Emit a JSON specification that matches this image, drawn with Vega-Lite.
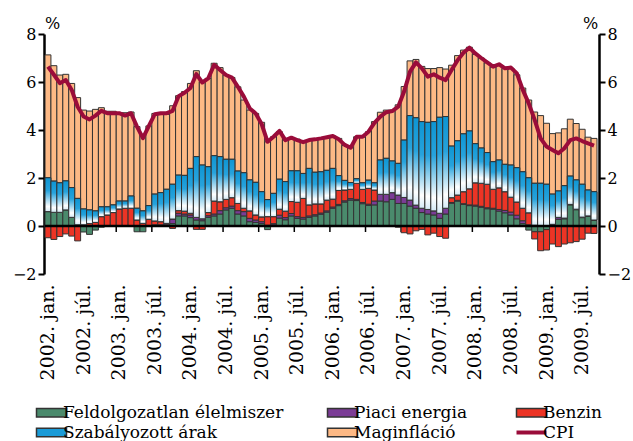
{
  "$schema": "https://vega.github.io/schema/vega-lite/v6.json",
  "width": 552,
  "height": 240,
  "autosize": {"type": "none"},
  "padding": {"left": 45, "top": 34, "right": 36, "bottom": 167},
  "background": "white",
  "config": {
    "view": {"stroke": null},
    "font": "DejaVu Serif",
    "axisX": {
      "labelAngle": -90, "labelFontSize": 19, "labelColor": "black", "labelPadding": 10,
      "labelFont": "DejaVu Serif",
      "domain": false, "ticks": false, "bandPosition": 0, "grid": false
    },
    "axisY": {
      "values": [-2, 0, 2, 4, 6, 8], "grid": false,
      "domainColor": "black", "domainWidth": 2.5,
      "tickColor": "black", "tickWidth": 2, "tickSize": 6,
      "labelFont": "DejaVu Serif",
      "labelFontSize": 16, "labelColor": "black", "labelPadding": 2, "labelFlush": false,
      "titleAngle": 0, "titleFont": "DejaVu Serif",
      "titleFontSize": 16, "titleFontWeight": "normal", "titleColor": "black",
      "titleY": -6, "titleAlign": "center", "titleBaseline": "alphabetic"
    }
  },
  "data": {"values": [
    {"m":"2002-01","s1":0.6,"s2":0,"s3":-0.49,"s4":1.41,"s5":5.12,"cpi":6.64},
    {"m":"2002-02","s1":0.57,"s2":0,"s3":-0.56,"s4":1.3,"s5":4.81,"cpi":6.3},
    {"m":"2002-03","s1":0.57,"s2":0,"s3":-0.44,"s4":1.23,"s5":4.49,"cpi":5.95},
    {"m":"2002-04","s1":0.67,"s2":0,"s3":-0.33,"s4":1.21,"s5":4.44,"cpi":6.08},
    {"m":"2002-05","s1":0.36,"s2":0,"s3":-0.42,"s4":1.24,"s5":4.34,"cpi":5.67},
    {"m":"2002-06","s1":0.05,"s2":0,"s3":-0.62,"s4":1.1,"s5":4.2,"cpi":4.97},
    {"m":"2002-07","s1":-0.25,"s2":0,"s3":0.05,"s4":0.66,"s5":4.12,"cpi":4.56},
    {"m":"2002-08","s1":-0.35,"s2":0,"s3":0.1,"s4":0.57,"s5":4.12,"cpi":4.44},
    {"m":"2002-09","s1":-0.17,"s2":0,"s3":0.15,"s4":0.48,"s5":4.23,"cpi":4.6},
    {"m":"2002-10","s1":-0.05,"s2":0,"s3":0.39,"s4":0.41,"s5":4.13,"cpi":4.8},
    {"m":"2002-11","s1":0,"s2":0,"s3":0.46,"s4":0.34,"s5":3.98,"cpi":4.7},
    {"m":"2002-12","s1":0,"s2":0,"s3":0.56,"s4":0.32,"s5":3.9,"cpi":4.7},
    {"m":"2003-01","s1":0,"s2":0,"s3":0.71,"s4":0.33,"s5":3.68,"cpi":4.7},
    {"m":"2003-02","s1":0,"s2":0,"s3":0.74,"s4":0.3,"s5":3.68,"cpi":4.6},
    {"m":"2003-03","s1":0,"s2":0,"s3":0.74,"s4":0.51,"s5":3.5,"cpi":4.7},
    {"m":"2003-04","s1":-0.24,"s2":0,"s3":0.25,"s4":0.49,"s5":3.4,"cpi":4.14},
    {"m":"2003-05","s1":-0.24,"s2":0,"s3":0.11,"s4":0.52,"s5":3.16,"cpi":3.66},
    {"m":"2003-06","s1":0,"s2":0,"s3":0.28,"s4":0.57,"s5":3.32,"cpi":4.17},
    {"m":"2003-07","s1":0,"s2":0.05,"s3":0.16,"s4":1.12,"s5":3.36,"cpi":4.66},
    {"m":"2003-08","s1":0,"s2":0.05,"s3":0.13,"s4":1.21,"s5":3.26,"cpi":4.7},
    {"m":"2003-09","s1":0,"s2":0.08,"s3":0.03,"s4":1.42,"s5":3.12,"cpi":4.7},
    {"m":"2003-10","s1":0.1,"s2":0.19,"s3":-0.1,"s4":1.45,"s5":3.27,"cpi":4.8},
    {"m":"2003-11","s1":0.42,"s2":0.11,"s3":0.11,"s4":1.48,"s5":3.31,"cpi":5.41},
    {"m":"2003-12","s1":0.42,"s2":0.08,"s3":0.12,"s4":1.49,"s5":3.49,"cpi":5.55},
    {"m":"2004-01","s1":0.35,"s2":0.11,"s3":0.07,"s4":1.87,"s5":3.54,"cpi":5.75},
    {"m":"2004-02","s1":0.25,"s2":0.11,"s3":-0.14,"s4":2.53,"s5":3.58,"cpi":6.33},
    {"m":"2004-03","s1":0.22,"s2":0.08,"s3":-0.14,"s4":2.24,"s5":3.47,"cpi":5.98},
    {"m":"2004-04","s1":0.36,"s2":0.07,"s3":0.13,"s4":1.91,"s5":3.68,"cpi":6.15},
    {"m":"2004-05","s1":0.42,"s2":0.08,"s3":0.54,"s4":1.89,"s5":3.85,"cpi":6.72},
    {"m":"2004-06","s1":0.5,"s2":0.14,"s3":0.37,"s4":1.88,"s5":3.71,"cpi":6.5},
    {"m":"2004-07","s1":0.67,"s2":0.09,"s3":0.35,"s4":1.67,"s5":3.51,"cpi":6.29},
    {"m":"2004-08","s1":0.74,"s2":0.09,"s3":0.35,"s4":1.6,"s5":3.41,"cpi":6.18},
    {"m":"2004-09","s1":0.5,"s2":0.14,"s3":0.3,"s4":1.35,"s5":3.51,"cpi":5.8},
    {"m":"2004-10","s1":0.42,"s2":0.18,"s3":0.14,"s4":1.48,"s5":3.03,"cpi":5.39},
    {"m":"2004-11","s1":0.18,"s2":0.14,"s3":0.31,"s4":1.29,"s5":2.91,"cpi":4.9},
    {"m":"2004-12","s1":0.15,"s2":0.1,"s3":0.21,"s4":1.36,"s5":2.87,"cpi":4.69},
    {"m":"2005-01","s1":0.1,"s2":0.08,"s3":0.2,"s4":1.05,"s5":2.89,"cpi":4.25},
    {"m":"2005-02","s1":-0.15,"s2":0.03,"s3":0.36,"s4":0.71,"s5":2.41,"cpi":3.51},
    {"m":"2005-03","s1":0.05,"s2":0.05,"s3":0.29,"s4":0.97,"s5":2.36,"cpi":3.72},
    {"m":"2005-04","s1":0.33,"s2":0.12,"s3":0.25,"s4":1.25,"s5":1.98,"cpi":3.96},
    {"m":"2005-05","s1":0.26,"s2":0.09,"s3":0.27,"s4":1.23,"s5":1.73,"cpi":3.58},
    {"m":"2005-06","s1":0.42,"s2":0.1,"s3":0.5,"s4":1.28,"s5":1.35,"cpi":3.68},
    {"m":"2005-07","s1":0.32,"s2":0.07,"s3":0.6,"s4":1.31,"s5":1.32,"cpi":3.58},
    {"m":"2005-08","s1":0.29,"s2":0.07,"s3":0.79,"s4":1.04,"s5":1.31,"cpi":3.49},
    {"m":"2005-09","s1":0.36,"s2":0.06,"s3":0.46,"s4":1.52,"s5":1.18,"cpi":3.58},
    {"m":"2005-10","s1":0.42,"s2":0.05,"s3":0.45,"s4":1.32,"s5":1.36,"cpi":3.61},
    {"m":"2005-11","s1":0.49,"s2":0.05,"s3":0.38,"s4":1.34,"s5":1.37,"cpi":3.65},
    {"m":"2005-12","s1":0.58,"s2":0.05,"s3":0.45,"s4":1.24,"s5":1.38,"cpi":3.7},
    {"m":"2006-01","s1":0.74,"s2":0.05,"s3":0.33,"s4":1.28,"s5":1.35,"cpi":3.75},
    {"m":"2006-02","s1":0.85,"s2":0.05,"s3":0.58,"s4":0.62,"s5":1.55,"cpi":3.61},
    {"m":"2006-03","s1":1.0,"s2":0.05,"s3":0.45,"s4":0.4,"s5":1.45,"cpi":3.38},
    {"m":"2006-04","s1":1.08,"s2":0.06,"s3":0.39,"s4":0.28,"s5":1.45,"cpi":3.26},
    {"m":"2006-05","s1":1.06,"s2":0.05,"s3":0.67,"s4":0.19,"s5":1.75,"cpi":3.72},
    {"m":"2006-06","s1":0.93,"s2":0.05,"s3":0.55,"s4":0.27,"s5":1.9,"cpi":3.72},
    {"m":"2006-07","s1":0.86,"s2":0.05,"s3":0.66,"s4":0.34,"s5":2.02,"cpi":3.93},
    {"m":"2006-08","s1":0.88,"s2":0.16,"s3":0.46,"s4":0.3,"s5":2.55,"cpi":4.3},
    {"m":"2006-09","s1":1.04,"s2":0.28,"s3":0,"s4":1.43,"s5":1.99,"cpi":4.56},
    {"m":"2006-10","s1":1.01,"s2":0.31,"s3":0,"s4":1.5,"s5":2.01,"cpi":4.74},
    {"m":"2006-11","s1":1.11,"s2":0.28,"s3":0,"s4":1.32,"s5":2.12,"cpi":4.79},
    {"m":"2006-12","s1":0.94,"s2":0.35,"s3":-0.05,"s4":1.32,"s5":2.44,"cpi":4.97},
    {"m":"2007-01","s1":0.94,"s2":0.25,"s3":-0.28,"s4":2.39,"s5":2.23,"cpi":5.6},
    {"m":"2007-02","s1":0.83,"s2":0.25,"s3":-0.33,"s4":3.52,"s5":2.28,"cpi":6.43},
    {"m":"2007-03","s1":0.74,"s2":0.13,"s3":-0.2,"s4":3.64,"s5":2.43,"cpi":6.82},
    {"m":"2007-04","s1":0.56,"s2":0.18,"s3":-0.14,"s4":3.61,"s5":2.3,"cpi":6.57},
    {"m":"2007-05","s1":0.5,"s2":0.19,"s3":-0.37,"s4":3.63,"s5":2.24,"cpi":6.22},
    {"m":"2007-06","s1":0.46,"s2":0.17,"s3":-0.3,"s4":3.72,"s5":2.21,"cpi":6.32},
    {"m":"2007-07","s1":0.32,"s2":0.21,"s3":-0.44,"s4":4.0,"s5":2.07,"cpi":6.18},
    {"m":"2007-08","s1":0.5,"s2":0.24,"s3":-0.51,"s4":3.82,"s5":1.98,"cpi":6.08},
    {"m":"2007-09","s1":0.95,"s2":0.03,"s3":0.2,"s4":2.15,"s5":3.37,"cpi":6.5},
    {"m":"2007-10","s1":1.04,"s2":0.03,"s3":0.22,"s4":2.26,"s5":3.55,"cpi":6.9},
    {"m":"2007-11","s1":0.9,"s2":0.03,"s3":0.5,"s4":2.41,"s5":3.49,"cpi":7.22},
    {"m":"2007-12","s1":0.85,"s2":0.03,"s3":0.67,"s4":2.41,"s5":3.49,"cpi":7.43},
    {"m":"2008-01","s1":0.83,"s2":0.04,"s3":0.93,"s4":1.63,"s5":3.72,"cpi":7.19},
    {"m":"2008-02","s1":0.78,"s2":0.04,"s3":0.96,"s4":1.47,"s5":3.75,"cpi":7.0},
    {"m":"2008-03","s1":0.72,"s2":0.04,"s3":0.98,"s4":1.32,"s5":3.74,"cpi":6.82},
    {"m":"2008-04","s1":0.7,"s2":0.04,"s3":0.79,"s4":1.15,"s5":3.94,"cpi":6.64},
    {"m":"2008-05","s1":0.62,"s2":0.07,"s3":0.9,"s4":1.16,"s5":3.95,"cpi":6.74},
    {"m":"2008-06","s1":0.55,"s2":0.1,"s3":0.78,"s4":1.14,"s5":3.99,"cpi":6.57},
    {"m":"2008-07","s1":0.46,"s2":0.12,"s3":0.62,"s4":1.34,"s5":4.03,"cpi":6.6},
    {"m":"2008-08","s1":0.3,"s2":0.15,"s3":0.55,"s4":1.43,"s5":3.87,"cpi":6.36},
    {"m":"2008-09","s1":0.1,"s2":0.12,"s3":0.52,"s4":1.52,"s5":3.49,"cpi":5.67},
    {"m":"2008-10","s1":-0.17,"s2":0.05,"s3":0.5,"s4":1.46,"s5":3.24,"cpi":5.11},
    {"m":"2008-11","s1":-0.24,"s2":0.03,"s3":-0.3,"s4":1.75,"s5":2.97,"cpi":4.42},
    {"m":"2008-12","s1":-0.24,"s2":0.02,"s3":-0.79,"s4":1.76,"s5":2.82,"cpi":3.65},
    {"m":"2009-01","s1":-0.15,"s2":0.02,"s3":-0.85,"s4":1.72,"s5":2.54,"cpi":3.31},
    {"m":"2009-02","s1":0.05,"s2":0.02,"s3":-0.75,"s4":1.26,"s5":2.52,"cpi":3.17},
    {"m":"2009-03","s1":0.28,"s2":0.08,"s3":-0.86,"s4":1.1,"s5":2.42,"cpi":3.03},
    {"m":"2009-04","s1":0.3,"s2":0.03,"s3":-0.75,"s4":1.35,"s5":2.37,"cpi":3.24},
    {"m":"2009-05","s1":0.88,"s2":0.02,"s3":-0.7,"s4":1.18,"s5":2.37,"cpi":3.58},
    {"m":"2009-06","s1":0.68,"s2":0.02,"s3":-0.65,"s4":1.22,"s5":2.35,"cpi":3.65},
    {"m":"2009-07","s1":0.35,"s2":0.02,"s3":-0.55,"s4":1.37,"s5":2.29,"cpi":3.54},
    {"m":"2009-08","s1":0.4,"s2":0.02,"s3":-0.3,"s4":1.08,"s5":2.2,"cpi":3.44},
    {"m":"2009-09","s1":0.23,"s2":0.02,"s3":-0.31,"s4":1.18,"s5":2.22,"cpi":3.35}
  ]},
  "layer": [
    {
      "transform": [{"filter": "substring(datum.m,5,7) === '01' || substring(datum.m,5,7) === '07'"}],
      "mark": {"type": "rule", "color": "black", "strokeWidth": 1.5},
      "encoding": {
        "x": {
          "field": "m", "type": "ordinal", "bandPosition": 0, "title": null,
          "scale": {"paddingInner": 0, "paddingOuter": 0},
          "axis": {
            "values": ["2002-01","2002-07","2003-01","2003-07","2004-01","2004-07","2005-01","2005-07","2006-01","2006-07","2007-01","2007-07","2008-01","2008-07","2009-01","2009-07"],
            "labelExpr": "substring(datum.value,0,4) + '. ' + (substring(datum.value,5,7) === '01' ? 'jan.' : 'júl.')"
          }
        },
        "y": {"datum": 0, "type": "quantitative", "scale": {"domain": [-2, 8], "nice": false}, "axis": null},
        "y2": {"datum": -0.25}
      }
    },
    {
      "transform": [
        {"fold": ["s1", "s2", "s3", "s4", "s5"], "as": ["s", "v"]},
        {"filter": "datum.v !== 0"},
        {"stack": "v", "groupby": ["m"], "sort": [{"field": "s", "order": "ascending"}], "as": ["y0", "y1"], "offset": "zero"}
      ],
      "mark": {"type": "bar", "stroke": "#333333", "strokeWidth": 1},
      "encoding": {
        "x": {
          "field": "m", "type": "ordinal", "title": null,
          "scale": {"paddingInner": 0, "paddingOuter": 0},
          "axis": {
            "values": ["2002-01","2002-07","2003-01","2003-07","2004-01","2004-07","2005-01","2005-07","2006-01","2006-07","2007-01","2007-07","2008-01","2008-07","2009-01","2009-07"],
            "labelExpr": "substring(datum.value,0,4) + '. ' + (substring(datum.value,5,7) === '01' ? 'jan.' : 'júl.')"
          }
        },
        "y": {
          "field": "y0", "type": "quantitative",
          "scale": {"domain": [-2, 8], "nice": false},
          "axis": {"orient": "left", "offset": 1, "title": "%", "titleX": 8}
        },
        "y2": {"field": "y1"},
        "color": {
          "field": "s", "type": "nominal",
          "scale": {
            "domain": ["s1", "s2", "s3", "s4", "s5", "cpi"],
            "range": ["#4a8a6c", "#7b3c96", "#ec3425", "#1a9bd7", "#fdb985", "#9a0c3a"]
          },
          "legend": {
            "orient": "none", "legendX": -2, "legendY": 370,
            "columns": 3, "direction": "horizontal", "title": null,
            "labelFont": "DejaVu Serif",
            "labelFontSize": 17, "labelColor": "black", "labelLimit": 0,
            "labelExpr": "datum.value === 's1' ? 'Feldolgozatlan élelmiszer' : datum.value === 's2' ? 'Piaci energia' : datum.value === 's3' ? 'Benzin' : datum.value === 's4' ? 'Szabályozott árak' : datum.value === 's5' ? 'Maginfláció' : 'CPI'",
            "symbolType": "M-1,-0.28H1V0.28H-1Z", "symbolSize": 900,
            "symbolStrokeColor": "#333333", "symbolStrokeWidth": 1.5,
            "columnPadding": 40, "rowPadding": 2, "labelOffset": 3, "padding": 0,
            "encode": {
              "symbols": {
                "update": {
                  "shape": {"signal": "datum.value === 'cpi' ? 'M-1,0H1' : 'M-1,-0.28H1V0.28H-1Z'"},
                  "stroke": {"signal": "datum.value === 'cpi' ? '#9a0c3a' : '#333333'"},
                  "strokeWidth": {"signal": "datum.value === 'cpi' ? 4 : 1.5"},
                  "fill": [
                    {"test": "datum.value === 's4'", "value": {"gradient": "linear", "x1": 0, "y1": 0, "x2": 0, "y2": 1, "stops": [{"offset": 0, "color": "#0d95d3"}, {"offset": 0.38, "color": "#27a3dc"}, {"offset": 0.85, "color": "#ffffff"}, {"offset": 1, "color": "#d4eaf6"}]}},
                    {"scale": "color", "field": "value"}
                  ]
                }
              }
            }
          }
        }
      }
    },
    {
      "transform": [
        {"fold": ["s1", "s2", "s3", "s4", "s5"], "as": ["s", "v"]},
        {"filter": "datum.v !== 0"},
        {"stack": "v", "groupby": ["m"], "sort": [{"field": "s", "order": "ascending"}], "as": ["y0", "y1"], "offset": "zero"},
        {"filter": "datum.s === 's4'"}
      ],
      "mark": {
        "type": "bar", "stroke": "#333333", "strokeWidth": 1,
        "fill": {"gradient": "linear", "x1": 0, "y1": 0, "x2": 0, "y2": 1,
                 "stops": [{"offset": 0, "color": "#0d95d3"}, {"offset": 0.38, "color": "#27a3dc"}, {"offset": 0.85, "color": "#ffffff"}, {"offset": 1, "color": "#d4eaf6"}]}
      },
      "encoding": {
        "x": {
          "field": "m", "type": "ordinal", "title": null,
          "scale": {"paddingInner": 0, "paddingOuter": 0},
          "axis": {
            "values": ["2002-01","2002-07","2003-01","2003-07","2004-01","2004-07","2005-01","2005-07","2006-01","2006-07","2007-01","2007-07","2008-01","2008-07","2009-01","2009-07"],
            "labelExpr": "substring(datum.value,0,4) + '. ' + (substring(datum.value,5,7) === '01' ? 'jan.' : 'júl.')"
          }
        },
        "y": {"field": "y1", "type": "quantitative", "scale": {"domain": [-2, 8], "nice": false}, "axis": null},
        "y2": {"field": "y0"}
      }
    },
    {
      "data": {"values": [{"z": 0}]},
      "mark": {"type": "rule", "color": "black", "strokeWidth": 2.5},
      "encoding": {
        "y": {"field": "z", "type": "quantitative", "scale": {"domain": [-2, 8], "nice": false}, "axis": null}
      }
    },
    {
      "mark": {"type": "line", "color": "#9a0c3a", "strokeWidth": 4, "strokeJoin": "round"},
      "encoding": {
        "x": {
          "field": "m", "type": "ordinal", "title": null,
          "scale": {"paddingInner": 0, "paddingOuter": 0},
          "axis": {
            "values": ["2002-01","2002-07","2003-01","2003-07","2004-01","2004-07","2005-01","2005-07","2006-01","2006-07","2007-01","2007-07","2008-01","2008-07","2009-01","2009-07"],
            "labelExpr": "substring(datum.value,0,4) + '. ' + (substring(datum.value,5,7) === '01' ? 'jan.' : 'júl.')"
          }
        },
        "y": {
          "field": "cpi", "type": "quantitative",
          "scale": {"domain": [-2, 8], "nice": false},
          "axis": {"orient": "right", "offset": 2, "title": "%", "titleX": -9}
        }
      }
    }
  ],
  "resolve": {"axis": {"y": "independent"}}
}
